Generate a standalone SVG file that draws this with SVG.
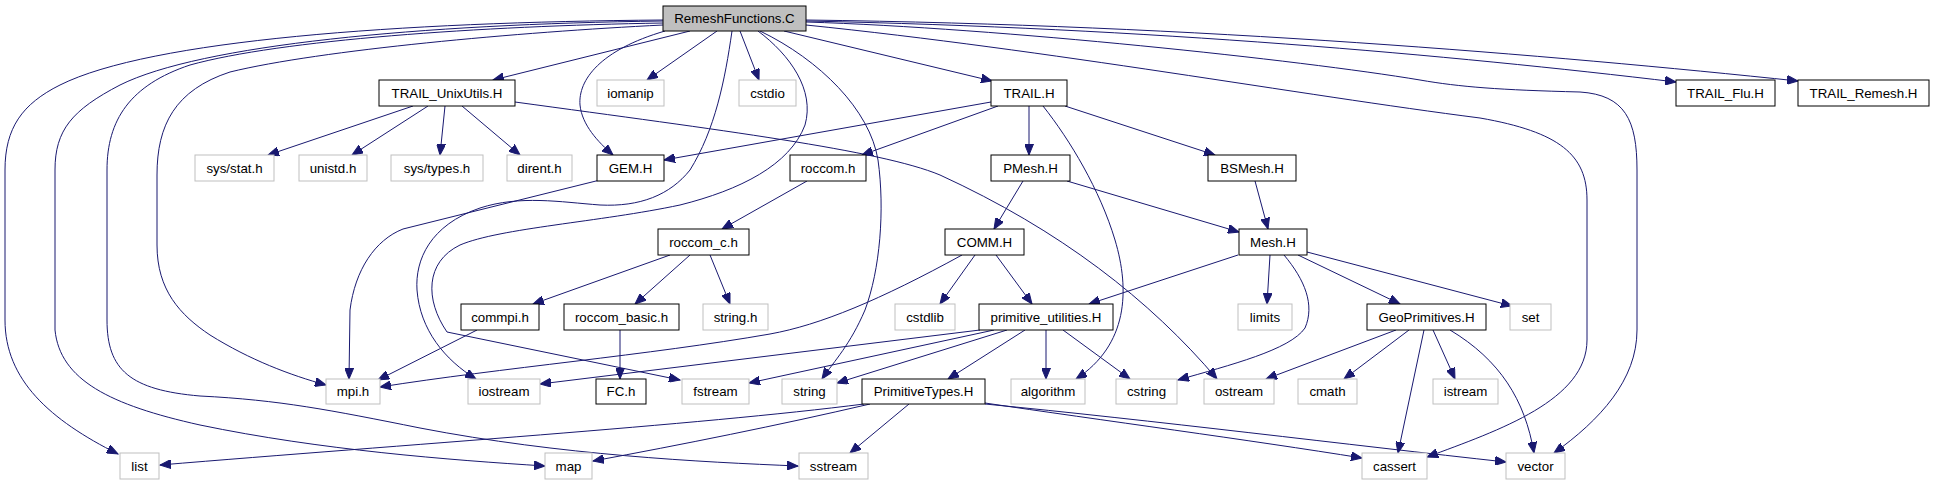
<svg xmlns="http://www.w3.org/2000/svg" width="1935" height="485" viewBox="0 0 1935 485">
<style>
.n rect{fill:#fff;stroke:#000;stroke-width:1}
.g rect{fill:#fff;stroke:#bfbfbf;stroke-width:1}
.r rect{fill:#bfbfbf;stroke:#000;stroke-width:1}
text{font-family:"Liberation Sans",Arial,sans-serif;font-size:13.3px;fill:#000;text-anchor:middle}
#edges path{fill:none;stroke:#191970;stroke-width:1;marker-end:url(#a)}
</style>
<defs>
<marker id="a" markerUnits="userSpaceOnUse" markerWidth="12" markerHeight="9" refX="11" refY="4.5" orient="auto">
<path d="M0,0 L11,4.5 L0,9 z" fill="#191970" stroke="#191970" stroke-width="1"/>
</marker>
</defs>
<rect width="1935" height="485" fill="#fff"/>
<g id="edges">
<path d="M663,20 C400,22 150,40 60,85 C22,104 5,128 5,170 L5,320 C5,380 50,420 118,454"/>
<path d="M663,21 C420,24 200,45 120,85 C72,110 55,130 55,170 L55,330 C60,380 110,405 200,425 C320,450 450,460 545,466"/>
<path d="M663,23 C480,26 280,40 190,65 C130,85 107,120 107,170 L107,320 C107,370 130,390 200,396 C280,400 330,410 420,428 C560,455 700,462 798,466"/>
<path d="M663,25 C520,32 320,50 230,72 C175,90 157,125 157,175 L157,245 C157,290 180,315 210,335 C250,360 290,375 326,385"/>
<path d="M690,31 L493,80"/>
<path d="M665,31 C600,50 578,80 580,105 C582,125 598,142 613,155"/>
<path d="M717,31 L647,80"/>
<path d="M732,31 C725,80 715,130 690,170 C670,195 640,207 600,205 C560,202 520,195 480,208 C430,225 415,260 417,290 C420,330 445,360 476,379"/>
<path d="M758,31 C790,55 815,90 805,125 C790,165 740,190 680,205 C600,222 500,228 460,245 C425,262 425,300 447,332 L680,380"/>
<path d="M740,31 L759,80"/>
<path d="M760,31 C820,60 870,110 878,160 C885,210 880,270 865,310 C850,345 835,360 822,379"/>
<path d="M784,31 L992,81"/>
<path d="M806,25 C1050,50 1300,95 1480,118 C1560,132 1587,155 1587,200 L1587,340 C1587,400 1500,430 1427,457"/>
<path d="M806,22 C1000,28 1300,60 1420,80 C1460,87 1500,90 1580,92 C1625,95 1637,120 1637,170 L1637,330 C1637,380 1600,420 1554,453"/>
<path d="M806,21 C1150,28 1450,55 1676,82"/>
<path d="M806,20 C1200,25 1550,55 1798,81"/>
<path d="M413,106 L268,155"/>
<path d="M428,106 L352,155"/>
<path d="M445,106 L440,155"/>
<path d="M462,106 L520,155"/>
<path d="M515,102 C720,130 880,150 940,175 C1060,230 1150,300 1217,379"/>
<path d="M600,180 L403,229 C375,240 355,270 350,310 L349,379"/>
<path d="M991,102 L664,160"/>
<path d="M998,106 L862,155"/>
<path d="M1029,106 L1029,155"/>
<path d="M1065,106 L1215,155"/>
<path d="M1043,106 C1070,140 1100,190 1115,240 C1130,290 1128,345 1076,379"/>
<path d="M807,181 L722,229"/>
<path d="M670,255 L533,304"/>
<path d="M690,255 L635,304"/>
<path d="M710,255 L730,304"/>
<path d="M477,330 L378,380"/>
<path d="M620,330 L620,379"/>
<path d="M1023,181 L994,229"/>
<path d="M1067,181 L1239,232"/>
<path d="M1255,181 L1268,229"/>
<path d="M962,255 C880,300 820,325 770,334 C650,355 500,368 380,387"/>
<path d="M975,255 L940,304"/>
<path d="M996,255 L1032,304"/>
<path d="M1238,255 L1089,304"/>
<path d="M1270,255 L1267,304"/>
<path d="M1284,255 C1305,280 1315,305 1305,328 C1290,350 1230,365 1178,380"/>
<path d="M1298,255 L1400,304"/>
<path d="M1307,252 L1512,306"/>
<path d="M980,330 L540,384"/>
<path d="M994,330 L749,383"/>
<path d="M1007,330 L837,383"/>
<path d="M1025,330 L948,379"/>
<path d="M1046,330 L1046,379"/>
<path d="M1063,330 L1130,379"/>
<path d="M1396,330 L1266,379"/>
<path d="M1409,330 L1344,379"/>
<path d="M1433,330 L1455,379"/>
<path d="M1424,330 L1398,453"/>
<path d="M1450,330 C1500,360 1525,400 1534,453"/>
<path d="M864,404 C700,425 400,445 160,465"/>
<path d="M870,404 C780,425 680,445 593,461"/>
<path d="M909,404 L850,453"/>
<path d="M985,403 C1100,420 1250,440 1362,458"/>
<path d="M985,404 C1150,420 1350,445 1506,462"/>
</g>
<g id="n_root" class="r"><rect x="663" y="6" width="143" height="25"/><text x="734.5" y="23">RemeshFunctions.C</text></g>
<g id="n_unixutils" class="n"><rect x="379" y="80" width="136" height="26"/><text x="447" y="97.5">TRAIL_UnixUtils.H</text></g>
<g id="n_iomanip" class="g"><rect x="597" y="80" width="67" height="26"/><text x="630.5" y="97.5">iomanip</text></g>
<g id="n_cstdio" class="g"><rect x="739" y="80" width="57" height="26"/><text x="767.5" y="97.5">cstdio</text></g>
<g id="n_trail" class="n"><rect x="991" y="80" width="76" height="26"/><text x="1029" y="97.5">TRAIL.H</text></g>
<g id="n_flu" class="n"><rect x="1676" y="80" width="99" height="26"/><text x="1725.5" y="97.5">TRAIL_Flu.H</text></g>
<g id="n_remesh" class="n"><rect x="1798" y="80" width="131" height="26"/><text x="1863.5" y="97.5">TRAIL_Remesh.H</text></g>
<g id="n_sysstat" class="g"><rect x="195" y="155" width="79" height="26"/><text x="234.5" y="172.5">sys/stat.h</text></g>
<g id="n_unistd" class="g"><rect x="299" y="155" width="68" height="26"/><text x="333" y="172.5">unistd.h</text></g>
<g id="n_systypes" class="g"><rect x="391" y="155" width="92" height="26"/><text x="437" y="172.5">sys/types.h</text></g>
<g id="n_dirent" class="g"><rect x="507" y="155" width="65" height="26"/><text x="539.5" y="172.5">dirent.h</text></g>
<g id="n_gem" class="n"><rect x="597" y="155" width="67" height="26"/><text x="630.5" y="172.5">GEM.H</text></g>
<g id="n_roccom" class="n"><rect x="790" y="155" width="76" height="26"/><text x="828" y="172.5">roccom.h</text></g>
<g id="n_pmesh" class="n"><rect x="991" y="155" width="79" height="26"/><text x="1030.5" y="172.5">PMesh.H</text></g>
<g id="n_bsmesh" class="n"><rect x="1208" y="155" width="88" height="26"/><text x="1252" y="172.5">BSMesh.H</text></g>
<g id="n_roccomc" class="n"><rect x="658" y="229" width="91" height="26"/><text x="703.5" y="246.5">roccom_c.h</text></g>
<g id="n_comm" class="n"><rect x="945" y="229" width="79" height="26"/><text x="984.5" y="246.5">COMM.H</text></g>
<g id="n_mesh" class="n"><rect x="1239" y="229" width="68" height="26"/><text x="1273" y="246.5">Mesh.H</text></g>
<g id="n_commpi" class="n"><rect x="461" y="304" width="78" height="26"/><text x="500" y="321.5">commpi.h</text></g>
<g id="n_roccombasic" class="n"><rect x="564" y="304" width="115" height="26"/><text x="621.5" y="321.5">roccom_basic.h</text></g>
<g id="n_stringh" class="g"><rect x="703" y="304" width="65" height="26"/><text x="735.5" y="321.5">string.h</text></g>
<g id="n_cstdlib" class="g"><rect x="895" y="304" width="60" height="26"/><text x="925" y="321.5">cstdlib</text></g>
<g id="n_primutil" class="n"><rect x="979" y="304" width="134" height="26"/><text x="1046" y="321.5">primitive_utilities.H</text></g>
<g id="n_limits" class="g"><rect x="1238" y="304" width="54" height="26"/><text x="1265" y="321.5">limits</text></g>
<g id="n_geoprim" class="n"><rect x="1367" y="304" width="119" height="26"/><text x="1426.5" y="321.5">GeoPrimitives.H</text></g>
<g id="n_set" class="g"><rect x="1510" y="304" width="41" height="26"/><text x="1530.5" y="321.5">set</text></g>
<g id="n_mpi" class="g"><rect x="326" y="379" width="54" height="25"/><text x="353" y="396">mpi.h</text></g>
<g id="n_iostream" class="g"><rect x="468" y="379" width="72" height="25"/><text x="504" y="396">iostream</text></g>
<g id="n_fc" class="n"><rect x="596" y="379" width="50" height="25"/><text x="621" y="396">FC.h</text></g>
<g id="n_fstream" class="g"><rect x="682" y="379" width="67" height="25"/><text x="715.5" y="396">fstream</text></g>
<g id="n_string" class="g"><rect x="782" y="379" width="55" height="25"/><text x="809.5" y="396">string</text></g>
<g id="n_primtypes" class="n"><rect x="862" y="379" width="123" height="25"/><text x="923.5" y="396">PrimitiveTypes.H</text></g>
<g id="n_algorithm" class="g"><rect x="1011" y="379" width="74" height="25"/><text x="1048" y="396">algorithm</text></g>
<g id="n_cstring" class="g"><rect x="1116" y="379" width="61" height="25"/><text x="1146.5" y="396">cstring</text></g>
<g id="n_ostream" class="g"><rect x="1204" y="379" width="70" height="25"/><text x="1239" y="396">ostream</text></g>
<g id="n_cmath" class="g"><rect x="1298" y="379" width="59" height="25"/><text x="1327.5" y="396">cmath</text></g>
<g id="n_istream" class="g"><rect x="1433" y="379" width="65" height="25"/><text x="1465.5" y="396">istream</text></g>
<g id="n_list" class="g"><rect x="120" y="453" width="39" height="26"/><text x="139.5" y="470.5">list</text></g>
<g id="n_map" class="g"><rect x="545" y="453" width="47" height="26"/><text x="568.5" y="470.5">map</text></g>
<g id="n_sstream" class="g"><rect x="799" y="453" width="69" height="26"/><text x="833.5" y="470.5">sstream</text></g>
<g id="n_cassert" class="g"><rect x="1362" y="453" width="65" height="26"/><text x="1394.5" y="470.5">cassert</text></g>
<g id="n_vector" class="g"><rect x="1506" y="453" width="59" height="26"/><text x="1535.5" y="470.5">vector</text></g>
</svg>
